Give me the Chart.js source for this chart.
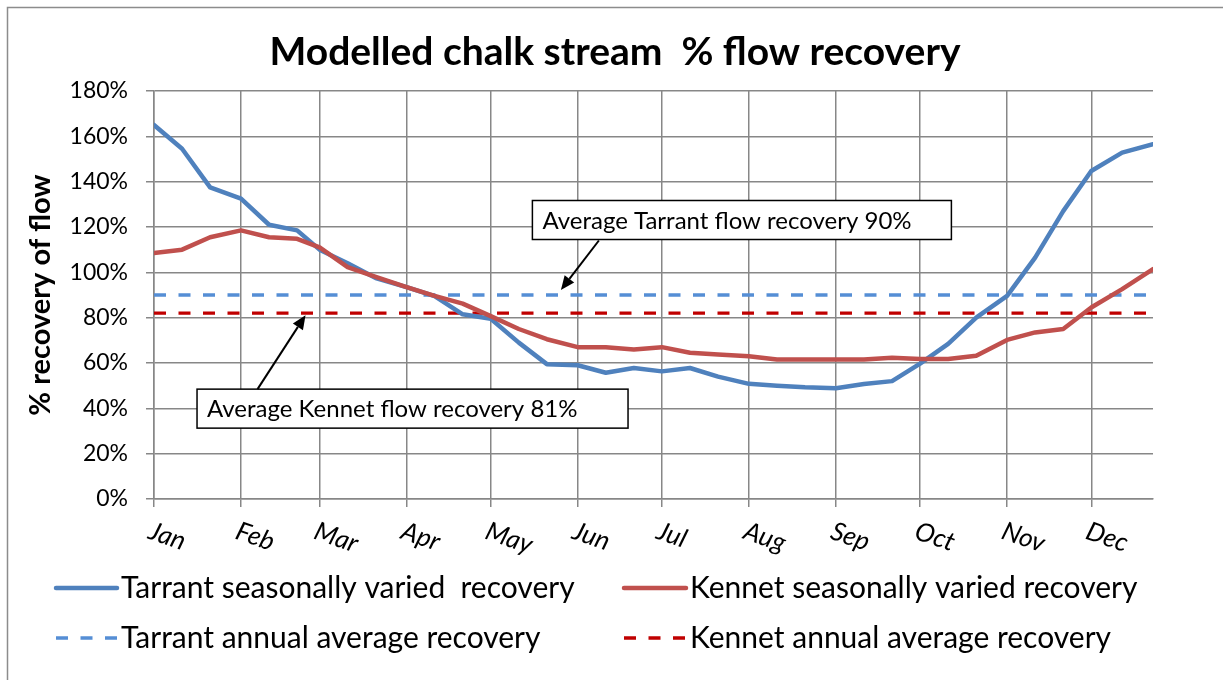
<!DOCTYPE html>
<html><head><meta charset="utf-8">
<script src="https://cdn.jsdelivr.net/npm/chart.js@4.4.0/dist/chart.umd.min.js"></script>
<style>html,body{margin:0;padding:0;background:#fff}canvas{display:block}</style>
</head><body>
<canvas id="c" width="1223" height="680"></canvas>
<script>
// ---- data ----
const chartTitle = 'Modelled chalk stream  % flow recovery';
const yAxisTitle = '% recovery of flow';
const monthLabels = ['Jan','Feb','Mar','Apr','May','Jun','Jul','Aug','Sep','Oct','Nov','Dec'];
const monthStartDays = [0,31,59,90,120,151,181,212,243,273,304,334];
const sampleDays = [0,10,20, 31,41,51, 59,69,79, 90,100,110, 120,130,140, 151,161,171,
                    181,191,201, 212,222,232, 243,253,263, 273,283,293, 304,314,324, 334,345,356];
const tarrantSeasonal = [165,154.5,137.5, 132.5,121,118.5, 110,104,97.5, 93.5,89.5,81.5,
                         79.5,69,59.5, 59,55.7,57.8, 56.3,57.8,54, 50.8,50,49.3,
                         48.9,50.7,52, 59.7,68.4,80, 89.6,106.5,127, 144.7,152.8,156.5];
const kennetSeasonal = [108.5,110,115.5, 118.5,115.5,114.8, 111,102.3,98, 93.5,89.6,86.2,
                        80.7,75,70.5, 67,67,66, 67,64.5,63.7, 63,61.5,61.5,
                        61.5,61.5,62.3, 61.8,61.8,63.2, 70.2,73.5,75, 84.5,92.6,101.4];
const tarrantAnnualAvg = 90;
const kennetAnnualAvg = 82;
const yTicks = [0,20,40,60,80,100,120,140,160,180];
const seriesNames = ['Tarrant seasonally varied  recovery','Kennet seasonally varied recovery',
                     'Tarrant annual average recovery','Kennet annual average recovery'];
const annotationTexts = ['Average Tarrant flow recovery 90%','Average Kennet flow recovery 81%'];
const annotationAnchorDays = [145, 54];

// ---- styles ----
const FONT = 'Lato';
const GRID = '#878787';
const C_TS = '#4F81BD', C_KS = '#C0504D', C_TA = '#558ED5', C_KA = '#C00000';
const DASH = [12, 12.5];

const toXY = (vals) => vals.map((v, i) => ({x: sampleDays[i], y: v}));
const flat = (v) => [{x: sampleDays[0], y: v}, {x: sampleDays[sampleDays.length-1], y: v}];

function arrow(ctx, x1, y1, x2, y2) {
  const a = Math.atan2(y2 - y1, x2 - x1), L = 14, W = 6;
  const bx = x2 - L * Math.cos(a), by = y2 - L * Math.sin(a);
  ctx.beginPath(); ctx.moveTo(x1, y1); ctx.lineTo(bx, by); ctx.stroke();
  ctx.beginPath(); ctx.moveTo(x2, y2);
  ctx.lineTo(bx + W * Math.sin(a), by - W * Math.cos(a));
  ctx.lineTo(bx - W * Math.sin(a), by + W * Math.cos(a));
  ctx.closePath(); ctx.fill();
}

const deco = {
  id: 'deco',
  beforeDraw(chart) {
    const ctx = chart.ctx;
    ctx.save();
    ctx.fillStyle = '#fff'; ctx.fillRect(0, 0, chart.width, chart.height);
    ctx.strokeStyle = '#8c8c8c'; ctx.lineWidth = 1.5;
    ctx.strokeRect(7.5, 7.5, chart.width + 40, chart.height + 40);
    ctx.restore();
  },
  afterDraw(chart) {
    const ctx = chart.ctx, xs = chart.scales.x, ys = chart.scales.y, ca = chart.chartArea;
    ctx.save();
    ctx.fillStyle = '#000';
    // title
    ctx.font = `bold 39px ${FONT}`;
    ctx.textAlign = 'center'; ctx.textBaseline = 'alphabetic';
    ctx.fillText(chartTitle, 615, 65);
    // y title
    ctx.save();
    ctx.translate(50, (ca.top + ca.bottom) / 2);
    ctx.rotate(-Math.PI / 2);
    ctx.font = `bold 29px ${FONT}`;
    ctx.fillText(yAxisTitle, 0, 0);
    ctx.restore();
    // x labels
    ctx.font = `italic 26px ${FONT}`;
    ctx.textAlign = 'left'; ctx.textBaseline = 'top';
    monthLabels.forEach((m, i) => {
      const x = xs.getPixelForValue(monthStartDays[i]);
      ctx.save();
      ctx.translate(x, ca.bottom + 19);
      ctx.rotate(19 * Math.PI / 180);
      ctx.fillText(m, 0, 0);
      ctx.restore();
    });
    // legend
    const ds = chart.data.datasets;
    const cols = [[56, 117, 121], [624, 686, 690]];
    const rows = [588, 638];
    ctx.font = `30px ${FONT}`;
    ctx.textBaseline = 'middle';
    ds.forEach((d, i) => {
      const c = cols[i % 2], y = rows[Math.floor(i / 2)];
      ctx.save();
      ctx.strokeStyle = d.borderColor; ctx.lineWidth = d.borderWidth;
      ctx.setLineDash(d.borderDash || []);
      ctx.lineCap = d.borderDash ? 'butt' : 'round';
      ctx.beginPath(); ctx.moveTo(c[0], y); ctx.lineTo(c[1], y); ctx.stroke();
      ctx.restore();
      ctx.fillText(d.label, c[2], y);
    });
    // annotations
    ctx.font = `24px ${FONT}`;
    ctx.lineWidth = 1.5; ctx.strokeStyle = '#000';
    const t1 = {x: xs.getPixelForValue(annotationAnchorDays[0]), y: ys.getPixelForValue(tarrantAnnualAvg)};
    const t2 = {x: xs.getPixelForValue(annotationAnchorDays[1]), y: ys.getPixelForValue(kennetAnnualAvg)};
    const b1 = {x: t1.x - 28.5, y: t1.y - 94.5, w: 419, h: 39};
    const b2 = {x: t2.x - 108.5, y: t2.y + 76, w: 431, h: 39};
    [[b1, annotationTexts[0]], [b2, annotationTexts[1]]].forEach(([b, t]) => {
      ctx.fillStyle = '#fff'; ctx.fillRect(b.x, b.y, b.w, b.h);
      ctx.strokeRect(b.x, b.y, b.w, b.h);
      ctx.fillStyle = '#000';
      ctx.fillText(t, b.x + 10, b.y + b.h / 2 + 1);
    });
    ctx.lineWidth = 2;
    arrow(ctx, t1.x + 38, b1.y + b1.h + 1, t1.x, t1.y - 5);
    arrow(ctx, t2.x - 48, b2.y, t2.x, t2.y + 2);
    ctx.restore();
  }
};

new Chart(document.getElementById('c'), {
  type: 'line',
  data: {
    datasets: [
      {label: seriesNames[0], data: toXY(tarrantSeasonal), borderColor: C_TS, borderWidth: 4.5, order: 1,
       borderJoinStyle: 'round', borderCapStyle: 'round'},
      {label: seriesNames[1], data: toXY(kennetSeasonal), borderColor: C_KS, borderWidth: 4.5, order: 0,
       borderJoinStyle: 'round', borderCapStyle: 'round'},
      {label: seriesNames[2], data: flat(tarrantAnnualAvg), borderColor: C_TA, borderWidth: 3.3, borderDash: DASH, order: 2},
      {label: seriesNames[3], data: flat(kennetAnnualAvg), borderColor: C_KA, borderWidth: 3.3, borderDash: DASH, order: 3}
    ]
  },
  options: {
    responsive: false,
    animation: false,
    events: [],
    layout: {padding: {top: 91, right: 70, left: 0, bottom: 0}},
    elements: {point: {radius: 0}, line: {tension: 0, fill: false}},
    plugins: {legend: {display: false}, title: {display: false}, tooltip: {enabled: false}},
    scales: {
      x: {
        type: 'linear', min: sampleDays[0], max: sampleDays[sampleDays.length - 1],
        afterBuildTicks: (s) => { s.ticks = monthStartDays.map(v => ({value: v})); },
        afterFit: (s) => { s.height = 181; },
        ticks: {display: false},
        grid: {color: GRID, lineWidth: 1.5, tickLength: 8, drawTicks: true},
        border: {color: GRID, width: 1.5}
      },
      y: {
        min: yTicks[0], max: yTicks[yTicks.length - 1],
        afterBuildTicks: (s) => { s.ticks = yTicks.map(v => ({value: v})); },
        afterFit: (s) => { s.width = 154; },
        ticks: {callback: (v) => v + '%', color: '#000', padding: 18, font: {family: FONT, size: 23}},
        grid: {color: GRID, lineWidth: 1.5, tickLength: 8},
        border: {color: GRID, width: 1.5}
      }
    }
  },
  plugins: [deco]
});
</script>
</body></html>
